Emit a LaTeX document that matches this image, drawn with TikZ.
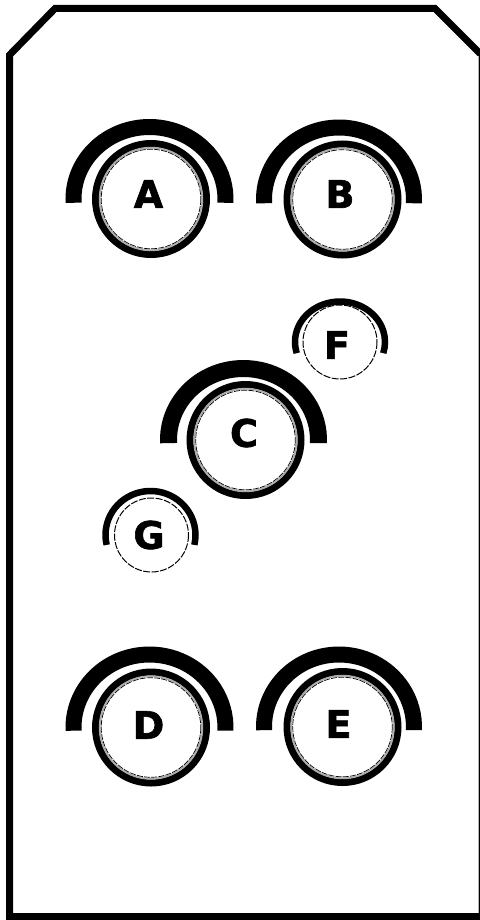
\documentclass[tikz,border=0pt]{standalone}
\usepackage{fontspec}
\setmainfont{DejaVu Sans}
\newfontfamily\knobfont{DejaVu Sans}[BoldFeatures={FakeBold=1.6}]

\begin{document}
\begin{tikzpicture}[x=1pt,y=1pt,yscale=-1,xscale=1,
  knoblabel/.style={inner sep=0pt,font=\knobfont\fontsize{38}{40}\selectfont\bfseries},
  ringband/.style={line width=7pt},
  ringhalo/.style={line width=1.8pt,gray!65},
  ringdash/.style={line width=0.7pt,dash pattern=on 6pt off 1.2pt},
  smallring/.style={line width=1pt,dash pattern=on 7pt off 1.5pt},
  bigarc/.style={line width=16pt,line cap=butt},
  smallarc/.style={line width=6.5pt,line cap=butt}]
\useasboundingbox (0,0) rectangle (479,920);

%Shape: Panel outline
\draw [line width=7pt,line join=miter] (9.5,55) -- (55,8.5) -- (435,8.5) -- (482,55.5) -- (482,916.5) -- (9.5,916.5) -- cycle ;
\draw [line width=1pt,gray!60] (478.3,56) -- (478.3,913) ;

%Knob centres
\coordinate (Ac) at (151,199);
\coordinate (Bc) at (342.5,199.5);
\coordinate (Cc) at (245.5,440);
\coordinate (Dc) at (151,727.5);
\coordinate (Ec) at (342.5,727);
\coordinate (Fc) at (340,342);
\coordinate (Gc) at (151.5,535);

%Shape: Big rings
\draw [ringband] (Ac) circle [radius=55.5] ;
\draw [ringhalo] (Ac) circle [radius=51.3] ;
\draw [ringdash] (Ac) circle [radius=49.8] ;
\draw [ringband] (Bc) circle [radius=55.5] ;
\draw [ringhalo] (Bc) circle [radius=51.3] ;
\draw [ringdash] (Bc) circle [radius=49.8] ;
\draw [ringband] (Cc) circle [radius=55.5] ;
\draw [ringhalo] (Cc) circle [radius=51.3] ;
\draw [ringdash] (Cc) circle [radius=49.8] ;
\draw [ringband] (Dc) circle [radius=55.5] ;
\draw [ringhalo] (Dc) circle [radius=51.3] ;
\draw [ringdash] (Dc) circle [radius=49.8] ;
\draw [ringband] (Ec) circle [radius=55.5] ;
\draw [ringhalo] (Ec) circle [radius=51.3] ;
\draw [ringdash] (Ec) circle [radius=49.8] ;

%Shape: Small rings
\draw [smallring] (Fc) circle [radius=37] ;
\draw [smallring] (Gc) circle [radius=37] ;

%Shape: Arcs over the knobs
\draw [bigarc] (Ac) ++(-1.5,0) ++(177:76 and 72) arc [start angle=177,end angle=363,x radius=76,y radius=72] ;
\draw [bigarc] (Bc) ++(-3.5,0) ++(177:75 and 72) arc [start angle=177,end angle=363,x radius=75,y radius=72] ;
\draw [bigarc,line width=17pt] (Cc) ++(-2,0) ++(177.5:75 and 71.5) arc [start angle=177.5,end angle=362.5,x radius=75,y radius=71.5] ;
\draw [bigarc] (Dc) ++(-1.5,0) ++(177.5:76 and 73) arc [start angle=177.5,end angle=362.5,x radius=76,y radius=73] ;
\draw [bigarc] (Ec) ++(-3.5,0) ++(177.5:75 and 72.5) arc [start angle=177.5,end angle=362.5,x radius=75,y radius=72.5] ;
\draw [smallarc] (Fc) ++(164:45 and 40.5) arc [start angle=164,end angle=376,x radius=45,y radius=40.5] ;
\draw [smallarc] (Gc) ++(-1,0) ++(167:45 and 44) arc [start angle=167,end angle=373,x radius=45,y radius=44] ;

% Text Node
\node [knoblabel] (A) at (148.5,194) {A};
% Text Node
\node [knoblabel] (B) at (340,194) {B};
% Text Node
\node [knoblabel] (C) at (244,433) {C};
% Text Node
\node [knoblabel] (D) at (148.5,725) {D};
% Text Node
\node [knoblabel] (E) at (338.5,724) {E};
% Text Node
\node [knoblabel] (F) at (337,345) {F};
% Text Node
\node [knoblabel] (G) at (149,535) {G};

\end{tikzpicture}
\end{document}
